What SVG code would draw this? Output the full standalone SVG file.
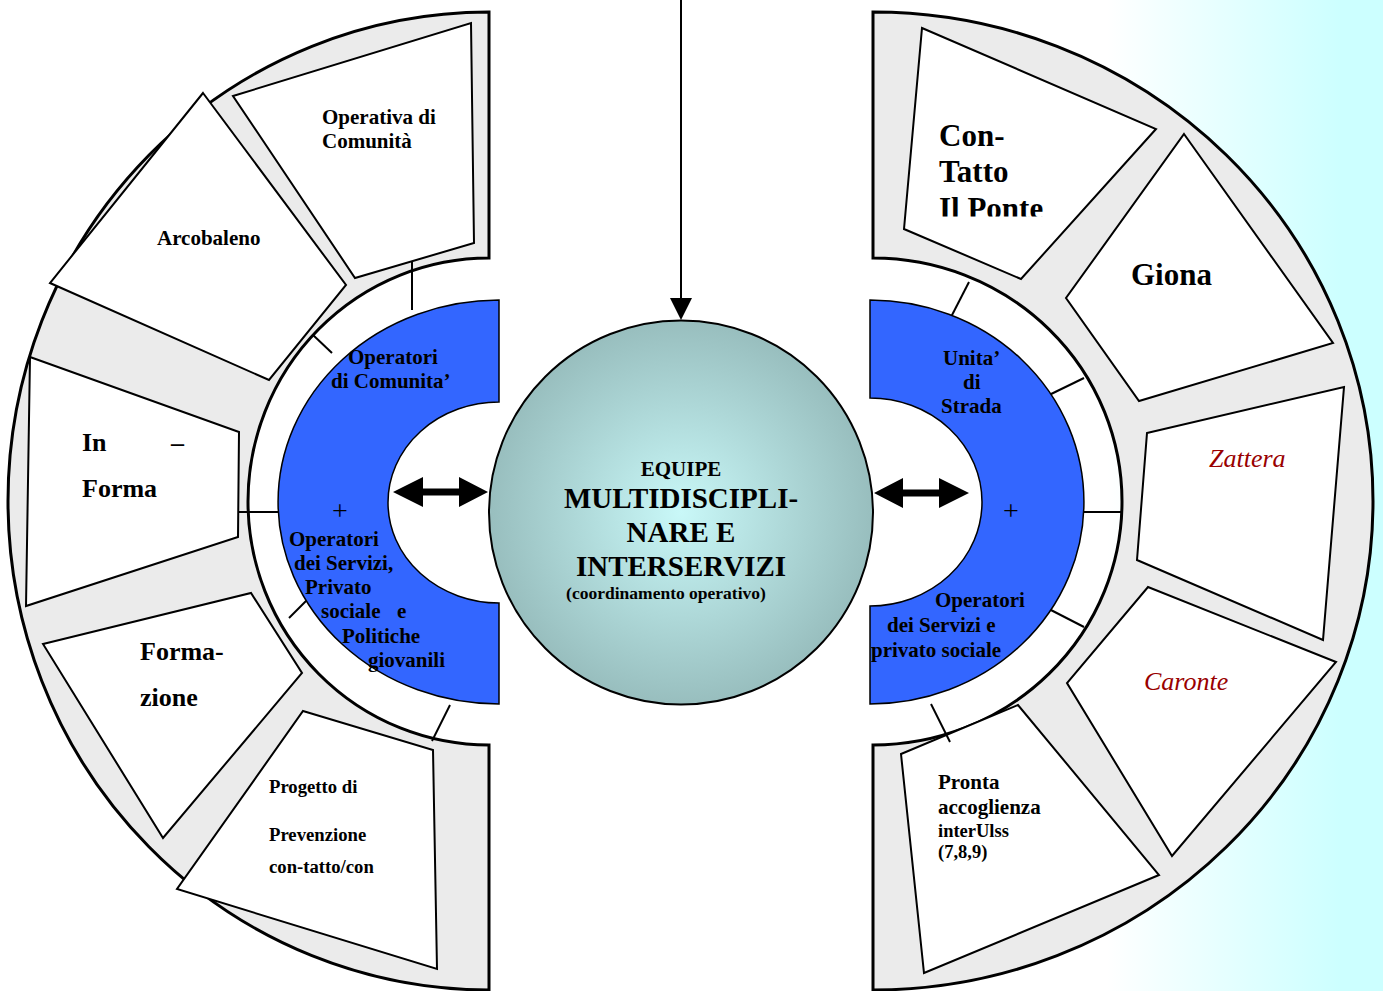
<svg xmlns="http://www.w3.org/2000/svg" width="1383" height="991" viewBox="0 0 1383 991">
<defs>
<linearGradient id="bg" x1="0" y1="0" x2="1" y2="0">
<stop offset="0.8" stop-color="#ffffff"/>
<stop offset="0.97" stop-color="#ccffff"/>
</linearGradient>
<radialGradient id="core" cx="0.5" cy="0.5" r="0.5">
<stop offset="0" stop-color="#c9f8f8"/>
<stop offset="1" stop-color="#98bebe"/>
</radialGradient>
<clipPath id="clipPonte"><rect x="900" y="100" width="200" height="116.5"/></clipPath>
</defs>
<style>
.band{fill:#ebebeb;stroke:#000;stroke-width:3}
.seg{fill:#fff;stroke:#000;stroke-width:2}
.blue{fill:#3366ff;stroke:#000;stroke-width:1.5}
.tick{stroke:#000;stroke-width:2;fill:none}
.t{font-family:"Liberation Serif","Times New Roman",serif;font-weight:bold;fill:#000}
.it{font-family:"Liberation Serif","Times New Roman",serif;font-style:italic;fill:#990000}
.plus{font-family:"Liberation Serif","Times New Roman",serif;fill:#000;font-size:28px}
</style>
<rect x="0" y="0" width="1383" height="991" fill="url(#bg)"/>

<g id="left-band"><path class="band" d="M489,12 A481,489 0 0 0 489,990 L489,745 A241,243.5 0 0 1 489,258 Z"/></g>
<g id="right-band"><path class="band" d="M873,12 A500,489 0 0 1 873,990 L873,745 A249,243.5 0 0 0 873,258 Z"/></g>

<g id="operativa"><polygon class="seg" points="233,96 471,23 474,243 355,278"/>
<text class="t" font-size="21" x="322" y="124">Operativa di</text>
<text class="t" font-size="21" x="322" y="148">Comunità</text></g>

<g id="arcobaleno"><polygon class="seg" points="203,93 346,285 269,380 50,283"/>
<text class="t" font-size="21" x="157" y="245">Arcobaleno</text></g>

<g id="informa"><polygon class="seg" points="30,357 239,432 238,537 26,606"/>
<text class="t" font-size="26" x="82" y="451">In</text>
<text class="t" font-size="26" x="171" y="451">–</text>
<text class="t" font-size="26" x="82" y="497">Forma</text></g>

<g id="formazione"><polygon class="seg" points="43,644 251,593 302,673 163,838"/>
<text class="t" font-size="26" x="140" y="660">Forma-</text>
<text class="t" font-size="26" x="140" y="706">zione</text></g>

<g id="progetto"><polygon class="seg" points="303,711 433,750 437,969 177,889"/>
<text class="t" font-size="18.7" x="269" y="793">Progetto di</text>
<text class="t" font-size="18.7" x="269" y="841">Prevenzione</text>
<text class="t" font-size="18.7" x="269" y="873">con-tatto/con</text></g>

<g id="contatto"><polygon class="seg" points="922,28 1156,129 1021,279 904,229"/>
<g clip-path="url(#clipPonte)">
<text class="t" font-size="31" x="939" y="146">Con-</text>
<text class="t" font-size="31" x="939" y="182">Tatto</text>
<text class="t" font-size="31" x="939" y="219">Il Ponte</text></g></g>

<g id="giona"><polygon class="seg" points="1184,134 1333,343 1139,401 1066,298"/>
<text class="t" font-size="31" x="1131" y="285">Giona</text></g>

<g id="zattera"><polygon class="seg" points="1147,433 1344,387 1323,640 1137,560"/>
<text class="it" font-size="26" x="1209" y="467">Zattera</text></g>

<g id="caronte"><polygon class="seg" points="1148,587 1336,662 1172,856 1067,683"/>
<text class="it" font-size="26" x="1144" y="690">Caronte</text></g>

<g id="pronta"><polygon class="seg" points="901,754 1018,705 1159,875 924,973"/>
<text class="t" font-size="21" x="938" y="789">Pronta</text>
<text class="t" font-size="21" x="938" y="814">accoglienza</text>
<text class="t" font-size="18.5" x="938" y="837">interUlss</text>
<text class="t" font-size="18.5" x="938" y="858">(7,8,9)</text></g>

<g id="connectors">
<line class="tick" x1="412" y1="262" x2="412" y2="310"/>
<line class="tick" x1="313" y1="335" x2="332" y2="353"/>
<line class="tick" x1="239" y1="512" x2="279" y2="512"/>
<line class="tick" x1="289" y1="618" x2="307" y2="600"/>
<line class="tick" x1="450" y1="705" x2="432" y2="741"/>
<line class="tick" x1="969" y1="282" x2="950" y2="319"/>
<line class="tick" x1="1084" y1="378" x2="1047" y2="396"/>
<line class="tick" x1="1084" y1="512" x2="1122" y2="512"/>
<line class="tick" x1="1047" y1="608" x2="1084" y2="627"/>
<line class="tick" x1="931" y1="704" x2="950" y2="742"/>
<line x1="681" y1="0" x2="681" y2="300" stroke="#000" stroke-width="2"/>
<polygon points="670,298 692,298 681,320" fill="#000"/>
<path d="M393,492 L423,477 L423,488.5 L459,488.5 L459,477 L488,492 L459,507 L459,495.5 L423,495.5 L423,507 Z" fill="#000"/>
<path d="M874,493 L903,478 L903,489.5 L939,489.5 L939,478 L969,493 L939,508 L939,496.5 L903,496.5 L903,508 Z" fill="#000"/>
</g>

<g id="left-blue"><path class="blue" d="M499,300 A221,202 0 0 0 499,704 L499,603 A111,100.5 0 0 1 499,402 Z"/>
<text class="t" font-size="21" x="348" y="364">Operatori</text>
<text class="t" font-size="21" x="331" y="388">di Comunita’</text>
<text class="plus" x="332" y="520">+</text>
<text class="t" font-size="21" x="289" y="546">Operatori</text>
<text class="t" font-size="21" x="294" y="570">dei Servizi,</text>
<text class="t" font-size="21" x="305" y="594">Privato</text>
<text class="t" font-size="21" x="321" y="618">sociale</text>
<text class="t" font-size="21" x="397" y="618">e</text>
<text class="t" font-size="21" x="342" y="643">Politiche</text>
<text class="t" font-size="21" x="368" y="667">giovanili</text></g>

<g id="right-blue"><path class="blue" d="M870,300 A214,202 0 0 1 870,704 L870,606 A112,104 0 0 0 870,398 Z"/>
<text class="t" font-size="21" x="943" y="365">Unita’</text>
<text class="t" font-size="21" x="963" y="389">di</text>
<text class="t" font-size="21" x="941" y="413">Strada</text>
<text class="plus" x="1003" y="520">+</text>
<text class="t" font-size="21" x="935" y="607">Operatori</text>
<text class="t" font-size="21" x="887" y="632">dei Servizi e</text>
<text class="t" font-size="21" x="871" y="657">privato sociale</text></g>

<g id="equipe"><circle cx="681" cy="512.5" r="192" fill="url(#core)" stroke="#000" stroke-width="2"/>
<text class="t" font-size="21" x="681" y="476" text-anchor="middle">EQUIPE</text>
<text class="t" font-size="29" x="681" y="508" text-anchor="middle">MULTIDISCIPLI-</text>
<text class="t" font-size="29" x="681" y="542" text-anchor="middle">NARE E</text>
<text class="t" font-size="29" x="681" y="576" text-anchor="middle">INTERSERVIZI</text>
<text class="t" font-size="17.5" x="666" y="599" text-anchor="middle">(coordinamento operativo)</text></g>
</svg>
